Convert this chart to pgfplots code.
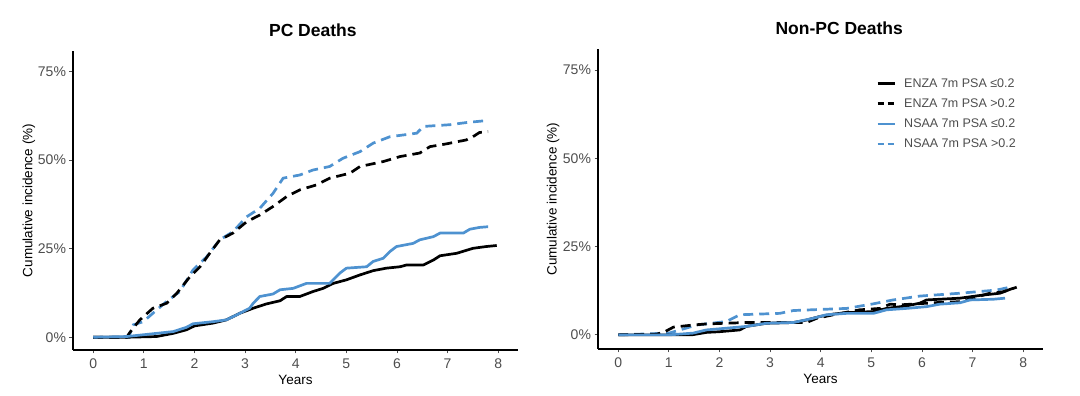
\documentclass[border=0pt]{standalone}
\usepackage{pgfplots}
\pgfplotsset{compat=1.18}
\usepackage{fontspec}
\setmainfont{Liberation Sans}
\definecolor{myblue}{HTML}{4E92D0}
\definecolor{tickgray}{HTML}{4D4D4D}
\pgfplotsset{
  panel/.style={
    scale only axis, width=445pt, height=299pt,
    xmin=-0.40, xmax=8.39, ymin=-3.6, ymax=80.8,
    axis x line*=bottom, axis y line*=left,
    axis line style={line width=1.6pt, black},
    xtick={0,1,2,3,4,5,6,7,8},
    ytick={0,25,50,75},
    yticklabels={0\%,25\%,50\%,75\%},
    tick align=outside, major tick length=3.5pt,
    tick style={line width=1pt, tickgray},
    ticklabel style={font=\fontsize{14}{16}\selectfont, text=tickgray},
    xticklabel style={yshift=-1.5pt},
    /pgf/number format/assume math mode=true,
    xlabel={Years},
    ylabel={Cumulative incidence (\%)},
    label style={font=\fontsize{13.5}{16}\selectfont},
    xlabel style={at={(0.5,-0.1)}, anchor=center},
    title style={font=\bfseries\fontsize{17.5}{20}\selectfont, anchor=center},
    clip=false,
  },
  enzalo/.style={sharp plot, black, line width=2.7pt, line join=round},
  enzahi/.style={sharp plot, black, line width=2.7pt, dash pattern=on 10pt off 6pt},
  nsaalo/.style={sharp plot, myblue, line width=2.7pt, line join=round},
  nsaahi/.style={sharp plot, myblue, line width=2.7pt, dash pattern=on 10pt off 6pt},
}
\begin{document}
\begin{tikzpicture}[x=1pt,y=1pt]
\useasboundingbox (0,0) rectangle (1080,396);
% ---------------- PC Deaths ----------------
\begin{axis}[panel, at={(73pt,46pt)}, anchor=south west,
  title={PC Deaths}, title style={at={(0.539,1.05)}},
  ylabel style={at={(-0.099,0.5)}, anchor=center, rotate=0}]
\addplot[nsaahi] coordinates {
(0,0)(0.70,0)(0.79,3.5)(0.99,4.4)(1.18,6.8)(1.45,10.1)(1.71,12.9)(1.97,19.0)(2.24,22.7)(2.50,27.5)(2.76,29.8)(3.03,34.0)(3.29,36.4)(3.55,40.6)(3.75,44.9)(4.08,45.8)(4.34,47.2)(4.67,48.2)(4.93,50.5)(5.27,52.4)(5.53,54.8)(5.86,56.6)(6.39,57.6)(6.52,59.5)(7.05,60.0)(7.37,60.6)(7.80,61.2)};
\addplot[enzahi] coordinates {
(0,0)(0.66,0)(0.72,1.3)(0.92,4.9)(1.18,8.2)(1.45,9.6)(1.65,12.4)(1.91,17.1)(2.11,19.9)(2.30,23.7)(2.50,27.5)(2.76,29.4)(3.03,32.6)(3.29,34.5)(3.55,36.9)(3.82,39.7)(4.08,41.6)(4.41,43.0)(4.67,44.9)(5.07,46.3)(5.27,48.2)(5.73,49.6)(6.06,51.0)(6.45,52.0)(6.65,53.8)(6.98,54.6)(7.37,55.7)(7.50,56.6)(7.63,57.8)(7.80,58.0)};
\addplot[enzalo] coordinates {
(0,0)(0.66,0)(1.25,0.2)(1.58,1.1)(1.84,2.1)(2.00,3.2)(2.37,4.0)(2.63,4.9)(2.90,6.8)(3.16,8.2)(3.42,9.4)(3.69,10.3)(3.82,11.5)(4.08,11.5)(4.34,12.9)(4.54,13.8)(4.74,15.2)(5.00,16.2)(5.27,17.6)(5.53,18.8)(5.79,19.5)(6.06,19.9)(6.19,20.4)(6.52,20.4)(6.72,21.8)(6.85,23.0)(7.18,23.7)(7.50,25.1)(7.76,25.6)(7.97,25.9)};
\addplot[nsaalo] coordinates {
(0,0)(0.66,0.2)(1.12,0.9)(1.58,1.6)(1.84,2.8)(1.97,3.8)(2.37,4.4)(2.63,4.9)(2.90,6.8)(3.09,8.2)(3.16,9.6)(3.29,11.5)(3.55,12.2)(3.69,13.4)(3.95,13.8)(4.21,15.2)(4.67,15.2)(4.87,18.1)(5.00,19.5)(5.40,19.9)(5.53,21.4)(5.73,22.3)(5.86,24.2)(5.99,25.6)(6.32,26.5)(6.45,27.5)(6.72,28.4)(6.85,29.4)(7.31,29.4)(7.44,30.5)(7.63,31.0)(7.80,31.2)};
\end{axis}
% ---------------- Non-PC Deaths ----------------
\begin{axis}[panel, at={(598pt,47pt)}, anchor=south west, ymin=-4, ymax=81, height=300pt,
  title={Non-PC Deaths}, title style={at={(0.542,1.05)}},
  ylabel style={at={(-0.101,0.5)}, anchor=center, rotate=0},
  legend style={at={(0.625,0.908)}, anchor=north west, draw=none, fill=none,
    font=\fontsize{12.5}{15}\selectfont, text=tickgray, row sep=7pt, column sep=7pt,
    inner sep=0pt, nodes={inner sep=1.5pt}},
  legend cell align=left,
  legend image code/.code={\draw[#1] (0pt,0pt) -- (17pt,0pt);}]
\addlegendimage{black, line width=2.4pt}
\addlegendentry{ENZA 7m PSA ≤0.2}
\addlegendimage{black, line width=2.4pt, dash pattern=on 6pt off 4pt}
\addlegendentry{ENZA 7m PSA >0.2}
\addlegendimage{myblue, line width=2.4pt}
\addlegendentry{NSAA 7m PSA ≤0.2}
\addlegendimage{myblue, line width=2.4pt, dash pattern=on 6pt off 4pt}
\addlegendentry{NSAA 7m PSA >0.2}
\addplot[nsaahi, forget plot] coordinates {
(0,0)(1.00,0.5)(1.22,1.4)(1.55,2.8)(2.14,3.8)(2.40,5.7)(3.19,6.1)(3.46,6.9)(4.51,7.5)(5.04,8.8)(5.43,9.9)(5.96,11.0)(6.75,11.8)(7.47,12.7)(7.80,13.7)};
\addplot[enzahi, forget plot] coordinates {
(0,0)(0.76,0.2)(0.92,0.9)(1.09,2.2)(1.48,2.8)(1.74,3.1)(2.53,3.5)(3.72,3.5)(3.92,4.7)(4.25,5.7)(4.77,7.1)(5.17,7.5)(5.37,8.7)(5.56,8.5)(6.35,9.2)(6.75,9.4)(7.34,11.8)(7.60,12.2)(7.80,13.2)};
\addplot[enzalo, forget plot] coordinates {
(0,0)(1.45,0)(1.74,0.7)(2.00,0.9)(2.40,1.4)(2.53,2.4)(2.93,3.3)(3.46,3.5)(3.72,4.2)(3.98,5.2)(4.25,5.9)(4.51,6.3)(5.04,6.6)(5.30,7.5)(5.69,8.2)(5.96,9.0)(6.09,9.9)(6.75,10.4)(7.21,11.3)(7.54,11.8)(7.74,12.9)(7.87,13.5)};
\addplot[nsaalo, forget plot] coordinates {
(0,0)(1.00,0)(1.48,0.5)(1.74,1.4)(2.14,1.9)(2.53,2.4)(2.93,3.3)(3.46,3.5)(3.85,4.7)(4.11,5.7)(4.51,6.1)(5.04,6.1)(5.30,7.1)(5.69,7.5)(6.09,8.0)(6.35,8.7)(6.75,9.1)(6.95,9.9)(7.41,10.1)(7.64,10.4)};
\end{axis}
\end{tikzpicture}
\end{document}
